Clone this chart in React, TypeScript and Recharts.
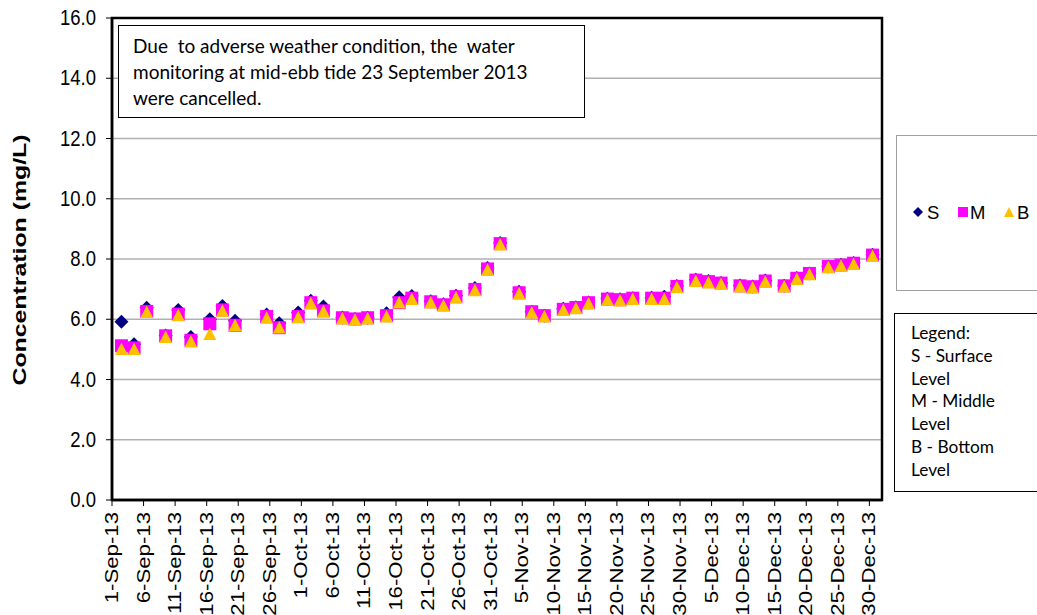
import React from 'react';
import { ScatterChart, Scatter, XAxis, YAxis, CartesianGrid, ReferenceArea } from 'recharts';

// monitoring dates (mid-ebb tide)
const sampleDates = [
  '2013-09-02', '2013-09-04', '2013-09-06', '2013-09-09', '2013-09-11', '2013-09-13',
  '2013-09-16', '2013-09-18', '2013-09-20', '2013-09-25', '2013-09-27', '2013-09-30',
  '2013-10-02', '2013-10-04', '2013-10-07', '2013-10-09', '2013-10-11', '2013-10-14',
  '2013-10-16', '2013-10-18', '2013-10-21', '2013-10-23', '2013-10-25', '2013-10-28',
  '2013-10-30', '2013-11-01', '2013-11-04', '2013-11-06', '2013-11-08', '2013-11-11',
  '2013-11-13', '2013-11-15', '2013-11-18', '2013-11-20', '2013-11-22', '2013-11-25',
  '2013-11-27', '2013-11-29', '2013-12-02', '2013-12-04', '2013-12-06', '2013-12-09',
  '2013-12-11', '2013-12-13', '2013-12-16', '2013-12-18', '2013-12-20', '2013-12-23',
  '2013-12-25', '2013-12-27', '2013-12-30',
];

const surface = [
  5.92, 5.17, 6.38, 5.46, 6.31, 5.41, 6.0, 6.44, 5.95, 6.16, 5.87, 6.22,
  6.61, 6.42, 6.06, 6.01, 6.05, 6.2, 6.73, 6.77, 6.6, 6.5, 6.78, 7.04,
  7.7, 8.53, 6.91, 6.25, 6.12, 6.35, 6.4, 6.56, 6.68, 6.66, 6.7, 6.71,
  6.75, 7.1, 7.31, 7.27, 7.2, 7.12, 7.09, 7.29, 7.11, 7.37, 7.52, 7.75,
  7.81, 7.87, 8.14,
];

const middle = [
  5.12, 5.05, 6.26, 5.45, 6.17, 5.3, 5.85, 6.31, 5.8, 6.09, 5.72, 6.09,
  6.55, 6.28, 6.05, 6.01, 6.05, 6.12, 6.55, 6.7, 6.58, 6.48, 6.75, 6.99,
  7.67, 8.51, 6.88, 6.25, 6.12, 6.33, 6.39, 6.55, 6.67, 6.65, 6.7, 6.7,
  6.7, 7.09, 7.3, 7.25, 7.2, 7.11, 7.08, 7.27, 7.11, 7.36, 7.52, 7.75,
  7.8, 7.86, 8.13,
];

const bottom = [
  5.03, 5.03, 6.26, 5.43, 6.15, 5.28, 5.53, 6.3, 5.82, 6.07, 5.74, 6.08,
  6.55, 6.28, 6.04, 6.0, 6.04, 6.11, 6.57, 6.69, 6.57, 6.47, 6.74, 6.98,
  7.66, 8.5, 6.87, 6.24, 6.11, 6.32, 6.38, 6.54, 6.66, 6.64, 6.69, 6.69,
  6.69, 7.08, 7.29, 7.24, 7.19, 7.1, 7.07, 7.26, 7.1, 7.35, 7.51, 7.74,
  7.79, 7.85, 8.12,
];

const tickLabels = [
  '1-Sep-13', '6-Sep-13', '11-Sep-13', '16-Sep-13', '21-Sep-13', '26-Sep-13',
  '1-Oct-13', '6-Oct-13', '11-Oct-13', '16-Oct-13', '21-Oct-13', '26-Oct-13', '31-Oct-13',
  '5-Nov-13', '10-Nov-13', '15-Nov-13', '20-Nov-13', '25-Nov-13', '30-Nov-13',
  '5-Dec-13', '10-Dec-13', '15-Dec-13', '20-Dec-13', '25-Dec-13', '30-Dec-13',
];

const yTicks = [0, 2, 4, 6, 8, 10, 12, 14, 16];

const ARIAL = '"Liberation Sans", Arial, sans-serif';
const CALIBRI = 'Lato, "Open Sans", sans-serif';

// each day is one category slot, points sit in the middle of the day
const START = Date.UTC(2013, 8, 1);
const dayPos = (iso: string) => {
  const [y, m, d] = iso.split('-').map(Number);
  return (Date.UTC(y, m - 1, d) - START) / 86400000 + 0.5;
};

const toSeries = (vals: number[]) => sampleDates.map((d, i) => ({ x: dayPos(d), y: vals[i] }));

const Diamond = (props: any) => {
  const { cx, cy } = props;
  const r = 7;
  return <polygon points={`${cx},${cy - r} ${cx + r},${cy} ${cx},${cy + r} ${cx - r},${cy}`} fill="#000080" />;
};

const Square = (props: any) => {
  const { cx, cy } = props;
  return <rect x={cx - 6.5} y={cy - 6.5} width={13} height={13} fill="#FF00FF" />;
};

const Triangle = (props: any) => {
  const { cx, cy } = props;
  return <polygon points={`${cx},${cy - 6} ${cx + 6.5},${cy + 6.5} ${cx - 6.5},${cy + 6.5}`} fill="#FFC000" />;
};

const XTick = (props: any) => {
  const { x, y, payload } = props;
  const label = tickLabels[Math.round(payload.value / 5)];
  return (
    <text
      transform={`translate(${x + 6},${y + 4}) scale(1,1.17) rotate(-90)`}
      textAnchor="end"
      fontSize={19}
      fontFamily={ARIAL}
      fill="#000"
    >
      {label}
    </text>
  );
};

const YTick = (props: any) => {
  const { x, y, payload } = props;
  return (
    <text
      transform={`translate(${x - 8},${y}) scale(1,1.2)`}
      textAnchor="end"
      dy={6}
      fontSize={18.5}
      fontFamily={ARIAL}
      fill="#000"
    >
      {payload.value.toFixed(1)}
    </text>
  );
};

const YLabel = () => (
  <text
    transform="translate(26,260) scale(1,1.38) rotate(-90)"
    textAnchor="middle"
    fontSize={18}
    fontWeight="bold"
    fontFamily={ARIAL}
    fill="#000"
  >
    Concentration (mg/L)
  </text>
);

export default function App() {
  return (
    <div style={{ position: 'absolute', left: 0, top: 0, width: 1037, height: 615, background: '#fff' }}>
      <ScatterChart width={1037} height={615} margin={{ top: 18, right: 155, bottom: 0, left: 0 }}>
        <CartesianGrid horizontal vertical={false} stroke="#b0b0b0" strokeWidth={1.5} />
        <XAxis
          type="number"
          dataKey="x"
          domain={[0, 122]}
          ticks={tickLabels.map((_, i) => i * 5)}
          interval={0}
          height={115}
          axisLine={{ stroke: '#000', strokeWidth: 2.5 }}
          tickLine={{ stroke: '#000' }}
          tickSize={6}
          tick={<XTick />}
          allowDataOverflow
        />
        <YAxis
          type="number"
          dataKey="y"
          domain={[0, 16]}
          ticks={yTicks}
          interval={0}
          width={112}
          axisLine={{ stroke: '#000', strokeWidth: 2.5 }}
          tickLine={{ stroke: '#000' }}
          tickSize={6}
          tick={<YTick />}
          label={<YLabel />}
        />
        <ReferenceArea x1={0} x2={122} y1={0} y2={16} fill="none" stroke="#000" strokeWidth={2.5} ifOverflow="visible" />
        <Scatter name="S" data={toSeries(surface)} shape={<Diamond />} isAnimationActive={false} />
        <Scatter name="M" data={toSeries(middle)} shape={<Square />} isAnimationActive={false} />
        <Scatter name="B" data={toSeries(bottom)} shape={<Triangle />} isAnimationActive={false} />
      </ScatterChart>

      {/* note box */}
      <div
        style={{
          position: 'absolute',
          left: 118,
          top: 25,
          width: 467,
          height: 93,
          boxSizing: 'border-box',
          border: '1.5px solid #000',
          background: '#fff',
          padding: '7px 0 0 14px',
          fontFamily: CALIBRI,
          fontSize: 19,
          lineHeight: '26px',
          whiteSpace: 'pre',
          color: '#000',
        }}
      >
        {'Due  to adverse weather condition, the  water\nmonitoring at mid-ebb tide 23 September 2013\nwere cancelled.'}
      </div>

      {/* series legend */}
      <div
        style={{
          position: 'absolute',
          left: 896,
          top: 135,
          width: 150,
          height: 156,
          boxSizing: 'border-box',
          border: '1px solid #a0a0a0',
          background: '#fff',
        }}
      >
        <svg width={150} height={156} style={{ position: 'absolute', left: -1, top: -1 }}>
          <polygon points="22,72 27,77 22,82 17,77" fill="#000080" />
          <text x={31} y={84} fontSize={18.5} fontFamily={ARIAL}>S</text>
          <rect x={62} y={72} width={10} height={10} fill="#FF00FF" />
          <text x={74} y={84} fontSize={18.5} fontFamily={ARIAL}>M</text>
          <polygon points="113,72 118,82 108,82" fill="#FFC000" />
          <text x={121} y={84} fontSize={18.5} fontFamily={ARIAL}>B</text>
        </svg>
      </div>

      {/* text legend */}
      <div
        style={{
          position: 'absolute',
          left: 894,
          top: 313,
          width: 150,
          height: 179,
          boxSizing: 'border-box',
          border: '1.5px solid #000',
          background: '#fff',
          padding: '8px 0 0 16px',
          fontFamily: CALIBRI,
          fontSize: 17.3,
          lineHeight: '22.8px',
          whiteSpace: 'pre',
          color: '#000',
        }}
      >
        {'Legend:\nS - Surface\nLevel\nM - Middle\nLevel\nB - Bottom\nLevel'}
      </div>
    </div>
  );
}
